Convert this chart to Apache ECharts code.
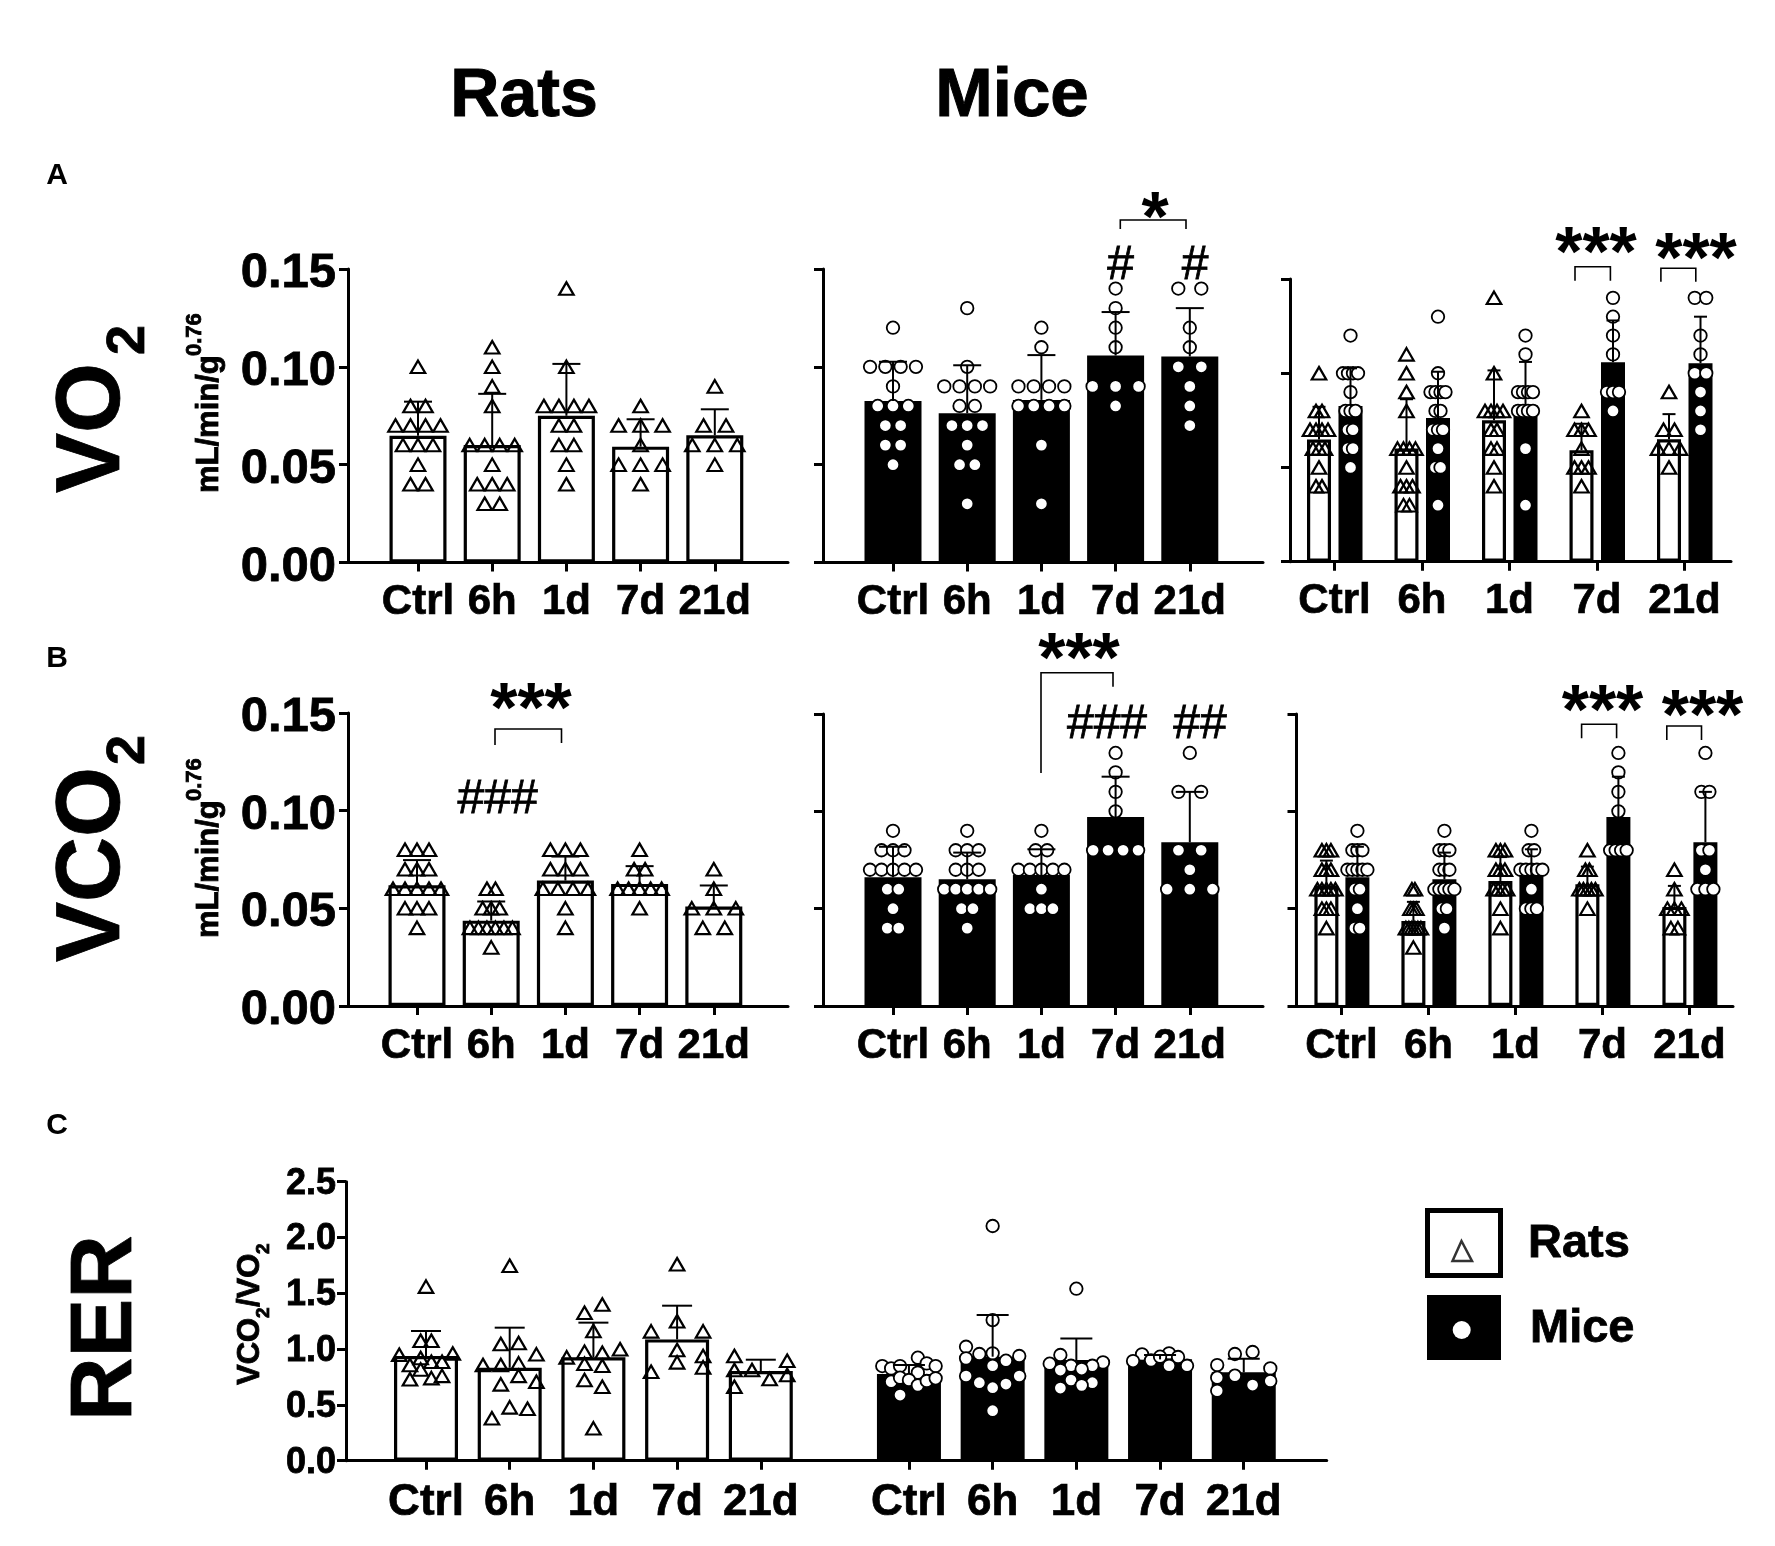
<!DOCTYPE html>
<html>
<head>
<meta charset="utf-8">
<title>Rats and mice</title>
<script src="https://cdn.jsdelivr.net/npm/echarts@6/dist/echarts.min.js"></script>
<style>
html, body { margin: 0; padding: 0; background: #fff; }
#chart { width: 1775px; height: 1546px; }
</style>
</head>
<body>
<div id="chart"></div>
<script>
var tickLabels = ['Ctrl', '6h', '1d', '7d', '21d'];
var gasTicks = [0, 0.05, 0.10, 0.15];

// VO2
var vo2RatMeans = [0.0648, 0.0600, 0.0750, 0.0592, 0.0650];
var vo2RatTops = [0.0822, 0.0862, 0.1015, 0.0732, 0.0783];
var vo2Rats = [
    [0.10, 0.08, 0.08, 0.07, 0.07, 0.07, 0.07, 0.06, 0.06, 0.06, 0.05, 0.04, 0.04],
    [0.11, 0.10, 0.09, 0.08, 0.06, 0.06, 0.06, 0.06, 0.05, 0.04, 0.04, 0.04, 0.03, 0.03],
    [0.14, 0.10, 0.08, 0.08, 0.08, 0.08, 0.07, 0.07, 0.06, 0.06, 0.05, 0.04],
    [0.08, 0.07, 0.07, 0.07, 0.06, 0.05, 0.05, 0.05, 0.04],
    [0.09, 0.07, 0.07, 0.06, 0.06, 0.06, 0.05]
];
var vo2MiceMeans = [0.0826, 0.0763, 0.0831, 0.1058, 0.1053];
var vo2MiceTops = [0.1026, 0.1008, 0.1060, 0.1280, 0.1300];
var vo2Mice = [
    [0.12, 0.10, 0.10, 0.10, 0.10, 0.09, 0.08, 0.08, 0.08, 0.07, 0.07, 0.06, 0.06, 0.05],
    [0.13, 0.10, 0.09, 0.09, 0.09, 0.09, 0.08, 0.08, 0.07, 0.07, 0.07, 0.06, 0.05, 0.05, 0.03],
    [0.12, 0.11, 0.09, 0.09, 0.09, 0.09, 0.08, 0.08, 0.08, 0.08, 0.06, 0.03],
    [0.14, 0.13, 0.12, 0.11, 0.09, 0.09, 0.09, 0.08],
    [0.14, 0.14, 0.12, 0.11, 0.10, 0.10, 0.09, 0.08, 0.07]
];

// VCO2
var vco2RatMeans = [0.0618, 0.0437, 0.0642, 0.0625, 0.0509];
var vco2RatTops = [0.0747, 0.0535, 0.0765, 0.0716, 0.0617];
var vco2Rats = [
    [0.08, 0.08, 0.08, 0.07, 0.07, 0.07, 0.06, 0.06, 0.06, 0.06, 0.06, 0.05, 0.05, 0.05, 0.04],
    [0.06, 0.06, 0.05, 0.05, 0.05, 0.04, 0.04, 0.04, 0.04, 0.04, 0.04, 0.03],
    [0.08, 0.08, 0.08, 0.07, 0.07, 0.07, 0.06, 0.06, 0.06, 0.06, 0.05, 0.04],
    [0.08, 0.07, 0.07, 0.06, 0.06, 0.06, 0.06, 0.06, 0.05],
    [0.07, 0.06, 0.05, 0.05, 0.05, 0.04, 0.04]
];
var vco2MiceMeans = [0.0661, 0.0651, 0.0673, 0.0971, 0.0841];
var vco2MiceTops = [0.0818, 0.0788, 0.0805, 0.1178, 0.1100];
var vco2Mice = [
    [0.09, 0.08, 0.08, 0.08, 0.07, 0.07, 0.07, 0.07, 0.07, 0.06, 0.06, 0.05, 0.04, 0.04],
    [0.09, 0.08, 0.08, 0.08, 0.07, 0.07, 0.07, 0.06, 0.06, 0.06, 0.06, 0.06, 0.05, 0.05, 0.04],
    [0.09, 0.08, 0.08, 0.07, 0.07, 0.07, 0.07, 0.07, 0.06, 0.05, 0.05, 0.05],
    [0.13, 0.12, 0.11, 0.10, 0.08, 0.08, 0.08, 0.08],
    [0.13, 0.11, 0.11, 0.08, 0.08, 0.07, 0.06, 0.06, 0.06]
];

// RER, with the swarm column of every point
var rerTicks = [0, 0.5, 1.0, 1.5, 2.0, 2.5];
var rerRatMeans = [0.938, 0.833, 0.926, 1.087, 0.803];
var rerRatTops = [1.162, 1.192, 1.237, 1.389, 0.905];
var rerRats = [
    [1.56, 1.075, 1.075, 0.95, 0.96, 0.92, 0.857, 0.887, 0.887, 0.818, 0.73, 0.74, 0.76],
    [1.747, 1.045, 1.054, 0.953, 0.857, 0.857, 0.872, 0.76, 0.684, 0.708, 0.478, 0.466, 0.38],
    [1.40, 1.326, 1.162, 0.926, 0.977, 0.968, 0.998, 0.869, 0.851, 0.723, 0.663, 0.29],
    [1.76, 1.249, 1.159, 1.159, 0.992, 0.938, 0.881, 0.836, 0.797],
    [0.938, 0.896, 0.812, 0.812, 0.768, 0.732, 0.663]
];
var rerRatCols = [
    [0, -0.5, 0.5, -2.5, 2.5, -0.5, -1.5, 0.5, 1.5, -0.5, -1.5, 0.5, 1.5],
    [0, -1, 1, 3, -3, -1, 1, 1, -1, 3, 0, 2, -2],
    [1, -1, 0, -3, -1, 1, 3, -1, 1, -1, 1, 0],
    [0, 0, -1, 1, 0, 1, 0, 1, -1],
    [-3, 3, -3, -1, 3, 1, -3]
];
var rerMiceMeans = [0.777, 0.932, 0.902, 0.908, 0.792];
var rerMiceTops = [0.857, 1.305, 1.096, 0.947, 0.914];
var rerMice = [
    [0.848, 0.827, 0.848, 0.923, 0.872, 0.848, 0.789, 0.708, 0.744, 0.723, 0.675, 0.714, 0.738, 0.588],
    [2.103, 1.26, 1.021, 0.917, 0.956, 0.962, 0.938, 0.896, 0.851, 0.759, 0.759, 0.699, 0.687, 0.654, 0.448],
    [1.541, 0.947, 0.881, 0.869, 0.851, 0.851, 0.821, 0.812, 0.723, 0.699, 0.675, 0.651],
    [0.953, 0.962, 0.893, 0.899, 0.932, 0.929, 0.851, 0.851],
    [0.956, 0.974, 0.857, 0.827, 0.744, 0.762, 0.714, 0.678, 0.627]
];
var rerMiceCols = [
    [-3, -2, -1, 1, 2, 3, 1, -2, -1, 0, 1, 2, 3, -1],
    [0, 0, -2, -2, -1, 0, 2, 1, 0, -2, 2, -1, 1, 0, 0],
    [0, -3, 5, -5, 3, -1, 1, -3, -1, 3, 1, -3],
    [-2, 1, -3, -1, 0, 2, 1, 3],
    [-0.5, 0.5, -1.5, 1.5, -1.5, -0.5, 1.5, 0.5, -1.5]
];

var FONT = '"Liberation Sans", Arial, sans-serif';

// same values side by side around the group centre, like the prism swarm
function swarmOffsets(values, gap) {
    var seen = {};
    values.forEach(function (v) { seen[v] = (seen[v] || 0) + 1; });
    var used = {};
    return values.map(function (v) {
        used[v] = (used[v] || 0) + 1;
        return (used[v] - 1 - (seen[v] - 1) / 2) * gap;
    });
}

function addSet(series, gridIndex, panel, set) {
    var positions = set.means.map(function (m, i) { return set.start + i; });
    var axisOpts = { xAxisIndex: gridIndex, yAxisIndex: gridIndex, silent: true, animation: false };
    var rat = set.kind === 'rat';

    series.push(Object.assign({
        type: 'bar',
        barGap: '-100%',
        barWidth: set.barWidth,
        itemStyle: {
            color: rat ? '#fff' : '#000',
            borderColor: '#000',
            borderWidth: rat ? 3.2 : 0
        },
        z: 2,
        data: set.means.map(function (m, i) { return [positions[i] + set.shift / panel.step, m]; })
    }, axisOpts));

    var dots = [];
    set.dots.forEach(function (values, i) {
        var offs = set.cols
            ? set.cols[i].map(function (c) { return c * set.gaps[i]; })
            : swarmOffsets(values, set.gaps[i]);
        values.forEach(function (v, k) {
            dots.push([positions[i] + (set.shift + offs[k]) / panel.step, v]);
        });
    });
    series.push(Object.assign({
        type: 'scatter',
        symbol: rat ? 'triangle' : 'circle',
        symbolSize: rat ? [14.5, 12.5] : 12.5,
        itemStyle: {
            opacity: 1,
            color: rat ? 'rgba(255,255,255,0)' : '#fff',
            borderColor: '#000',
            borderWidth: rat ? 2.2 : 1.8
        },
        z: 3,
        data: dots
    }, axisOpts));

    series.push(Object.assign({
        type: 'custom',
        z: 4,
        renderItem: function (params, api) {
            var a = api.coord([api.value(0), api.value(1)]);
            var b = api.coord([api.value(0), api.value(2)]);
            var style = { stroke: '#000', lineWidth: 2, fill: null };
            return {
                type: 'group',
                children: [
                    { type: 'line', shape: { x1: a[0], y1: a[1], x2: b[0], y2: b[1] }, style: style },
                    { type: 'line', shape: { x1: b[0] - set.cap / 2, y1: b[1], x2: b[0] + set.cap / 2, y2: b[1] }, style: style }
                ]
            };
        },
        data: set.means.map(function (m, i) { return [positions[i] + set.shift / panel.step, m, set.tops[i]]; })
    }, axisOpts));
}

var panels = [
    { x0: 348, x1: 788, top: 269, bottom: 562.5, first: 70, step: 74.2, ticks: gasTicks, labelSize: 49, labelDrop: 9, catSize: 42, catMargin: 19, yLabels: true,
      sets: [{ kind: 'rat', start: 1, shift: 0, barWidth: 57, cap: 28, means: vo2RatMeans, tops: vo2RatTops, dots: vo2Rats, gaps: [15, 15, 15, 22, 22.5] }] },
    { x0: 823, x1: 1263, top: 269, bottom: 562.5, first: 70, step: 74.2, ticks: gasTicks, catSize: 42, catMargin: 19,
      sets: [{ kind: 'mouse', start: 1, shift: 0, barWidth: 57, cap: 28, means: vo2MiceMeans, tops: vo2MiceTops, dots: vo2Mice, gaps: [15.3, 15.3, 15.3, 23, 23] }] },
    { x0: 1290, x1: 1731, top: 279, bottom: 561.7, first: 44.5, step: 87.5, ticks: gasTicks, catSize: 42, catMargin: 19,
      sets: [
          { kind: 'rat', start: 1, shift: -15.5, barWidth: 24, cap: 13, means: vo2RatMeans, tops: vo2RatTops, dots: vo2Rats, gaps: [6, 6, 6, 7, 11] },
          { kind: 'mouse', start: 1, shift: 16, barWidth: 24, cap: 13, means: vo2MiceMeans, tops: vo2MiceTops, dots: vo2Mice, gaps: [5, 5, 5, 6, 11.5] }
      ] },
    { x0: 348, x1: 788, top: 713, bottom: 1006, first: 69, step: 74.2, ticks: gasTicks, labelSize: 49, labelDrop: 9, catSize: 42, catMargin: 19, yLabels: true,
      sets: [{ kind: 'rat', start: 1, shift: 0, barWidth: 57, cap: 28, means: vco2RatMeans, tops: vco2RatTops, dots: vco2Rats, gaps: [12, 8.5, 15, 11, 22] }] },
    { x0: 823, x1: 1263, top: 714, bottom: 1006, first: 70, step: 74.2, ticks: gasTicks, catSize: 42, catMargin: 19,
      sets: [{ kind: 'mouse', start: 1, shift: 0, barWidth: 57, cap: 28, means: vco2MiceMeans, tops: vco2MiceTops, dots: vco2Mice, gaps: [11.5, 11.5, 11.5, 15, 22.7] }] },
    { x0: 1296.5, x1: 1733, top: 714, bottom: 1006, first: 44.9, step: 87, ticks: gasTicks, catSize: 42, catMargin: 19,
      sets: [
          { kind: 'rat', start: 1, shift: -15, barWidth: 24, cap: 13, means: vco2RatMeans, tops: vco2RatTops, dots: vco2Rats, gaps: [4.5, 3, 4.5, 4, 7] },
          { kind: 'mouse', start: 1, shift: 16, barWidth: 24, cap: 13, means: vco2MiceMeans, tops: vco2MiceTops, dots: vco2Mice, gaps: [5, 5, 5.5, 5.5, 8] }
      ] },
    { x0: 346, x1: 1326.7, top: 1181.7, bottom: 1460.7, first: 80, step: 83.7, ticks: rerTicks, labelSize: 36, labelDrop: 4, catSize: 44, catMargin: 20, yLabels: true, oneDecimal: true, labelMargin: 10,
      sets: [
          { kind: 'rat', start: 1, shift: 0, barWidth: 64, cap: 30, means: rerRatMeans, tops: rerRatTops, dots: rerRats, cols: rerRatCols, gaps: [10.7, 8.9, 8.9, 26, 8.8] },
          { kind: 'mouse', start: 6.77, shift: 0, barWidth: 64, cap: 32, means: rerMiceMeans, tops: rerMiceTops, dots: rerMice, cols: rerMiceCols, gaps: [8.9, 13.3, 5.33, 9, 17.7] }
      ] }
];

var grids = [], xAxes = [], yAxes = [], series = [];
panels.forEach(function (p, idx) {
    var xMin = 1 - p.first / p.step;
    var xMax = xMin + (p.x1 - p.x0) / p.step;
    var tickValues = [], names = [];
    p.sets.forEach(function (s, k) {
        if (k > 0 && s.start === p.sets[0].start) { return; }
        tickLabels.forEach(function (t, i) { tickValues.push(s.start + i); names.push(t); });
    });
    grids.push({ left: p.x0, top: p.top, width: p.x1 - p.x0, height: p.bottom - p.top, containLabel: false });
    xAxes.push({
        type: 'value', gridIndex: idx, min: xMin, max: xMax, splitLine: { show: false },
        axisLine: { show: true, onZero: false, lineStyle: { color: '#000', width: 3 } },
        axisTick: { show: true, customValues: tickValues, length: 9, lineStyle: { color: '#000', width: 3 } },
        axisLabel: {
            show: true, customValues: tickValues, color: '#000', margin: p.catMargin,
            fontFamily: FONT, fontWeight: 'bold', fontSize: p.catSize, hideOverlap: false,
            textBorderColor: '#000', textBorderWidth: 0.7,
            formatter: function (v) {
                return names[tickValues.indexOf(v)];
            }
        }
    });
    yAxes.push({
        type: 'value', gridIndex: idx, min: 0, max: p.ticks[p.ticks.length - 1], interval: p.ticks[1] - p.ticks[0],
        splitLine: { show: false },
        axisLine: { show: true, lineStyle: { color: '#000', width: 3 } },
        axisTick: { show: true, length: 9, lineStyle: { color: '#000', width: 3 } },
        axisLabel: {
            show: !!p.yLabels, color: '#000', margin: p.labelMargin || 12,
            formatter: function (v) { return '{v|' + v.toFixed(p.oneDecimal ? 1 : 2) + '}'; },
            rich: {
                v: {
                    fontFamily: FONT, fontWeight: 'bold', fontSize: p.labelSize || 12, color: '#000',
                    textBorderColor: '#000', textBorderWidth: 0.8, padding: [p.labelDrop || 0, 0, 0, 0]
                }
            }
        }
    });
    p.sets.forEach(function (s) { addSet(series, idx, p, s); });
});

// titles, annotations and the legend are placed by hand on the page
var graphic = [];
function text(str, x, y, size, opts) {
    opts = opts || {};
    graphic.push({
        type: 'text', x: x, y: y, rotation: opts.rotate ? Math.PI / 2 : 0, silent: true, z: 20,
        style: {
            text: str, fill: '#000', font: (opts.weight || 'bold') + ' ' + size + 'px ' + FONT,
            align: opts.align || 'center', verticalAlign: opts.valign || 'middle',
            stroke: opts.heavy ? '#000' : null, lineWidth: opts.heavy || 0
        }
    });
}
function bracket(x1, x2, top, bottom1, bottom2) {
    graphic.push({
        type: 'polyline', silent: true, z: 20,
        shape: { points: [[x1, bottom1], [x1, top], [x2, top], [x2, bottom2]] },
        style: { stroke: '#000', lineWidth: 1.6, fill: null }
    });
}
function stars(str, x, y) { text(str, x, y + 15, 70); }
function hash(str, x, y) { text(str, x, y + 3, 48, { weight: 'normal', heavy: 0.8 }); }
function rotated(str, x, y, size) { text(str, x, y, size, { rotate: true, align: 'left', valign: 'bottom', heavy: 0.8 }); }

text('Rats', 524, 97, 68, { heavy: 1 });
text('Mice', 1012, 97, 69, { heavy: 1 });
text('A', 57, 176, 30);
text('B', 57, 659, 30);
text('C', 57, 1126, 30);

rotated('VO', 139, 493, 90);
rotated('2', 156, 355, 54);
rotated('VCO', 139, 962, 90);
rotated('2', 156, 765, 54);
rotated('RER', 151, 1421, 88);

rotated('mL/min/g', 225, 493, 31);
rotated('0.76', 206, 356, 22);
rotated('mL/min/g', 225, 938, 31);
rotated('0.76', 206, 801, 22);
rotated('VCO', 266, 1385, 31);
rotated('2', 273, 1318, 19);
rotated('/VO', 266, 1307, 31);
rotated('2', 273, 1254, 19);

stars('*', 1155, 207);
bracket(1120.3, 1186, 220, 229, 229);
hash('#', 1120.7, 263);
hash('#', 1195, 263);
stars('***', 1596, 241.7);
bracket(1575, 1610.4, 266.7, 280.7, 280.7);
stars('***', 1696, 248);
bracket(1660.9, 1695.8, 268.3, 281.7, 281.7);

stars('***', 531, 698);
bracket(495, 561.5, 729, 745, 743);
hash('###', 497.6, 796.7);
stars('***', 1079, 648);
bracket(1041, 1113, 672.7, 773, 686.7);
hash('###', 1107, 722);
hash('##', 1200, 722);
stars('***', 1602.5, 700);
bracket(1581.6, 1616.6, 724.3, 738.3, 738.3);
stars('***', 1702.5, 705);
bracket(1666.8, 1701.5, 726, 740, 740);

// legend
graphic.push({
    type: 'rect', silent: true, shape: { x: 1427.5, y: 1210.5, width: 73, height: 65 },
    style: { fill: '#fff', stroke: '#000', lineWidth: 5 }
});
graphic.push({
    type: 'polygon', silent: true, shape: { points: [[1461.5, 1241], [1452.5, 1261], [1472, 1261]] },
    style: { fill: '#fff', stroke: '#333', lineWidth: 2.5 }
});
graphic.push({
    type: 'rect', silent: true, shape: { x: 1427, y: 1295, width: 74, height: 65 },
    style: { fill: '#000' }
});
graphic.push({
    type: 'circle', silent: true, shape: { cx: 1461.7, cy: 1330, r: 9 },
    style: { fill: '#fff' }
});
text('Rats', 1528, 1244, 47, { align: 'left', heavy: 0.8 });
text('Mice', 1530, 1329, 47, { align: 'left', heavy: 0.8 });

var myChart = echarts.init(document.getElementById('chart'));
myChart.setOption({
    animation: false,
    backgroundColor: '#fff',
    grid: grids,
    xAxis: xAxes,
    yAxis: yAxes,
    series: series,
    graphic: graphic
});
</script>
</body>
</html>
